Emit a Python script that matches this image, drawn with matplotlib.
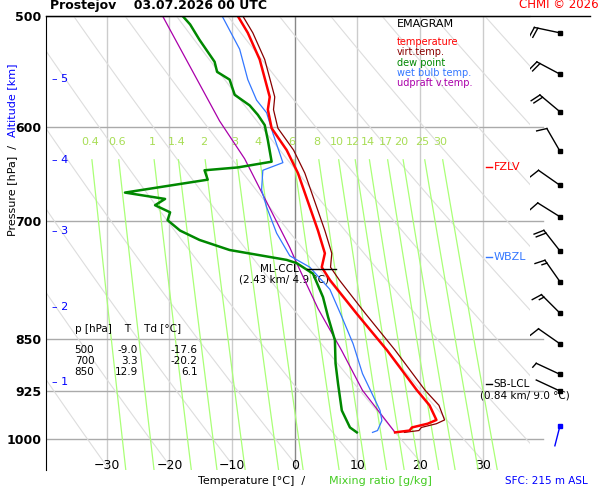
import numpy as np
import matplotlib
matplotlib.use("Agg")
import matplotlib.pyplot as plt

# sounding data (temperature in degC, pressure in hPa)
t_p = [500, 514, 537, 571, 583, 601, 623, 647, 711, 738, 755, 771, 815, 865, 924, 947, 970, 976, 982, 987, 990]
t_t = [-9.1, -7.5, -5.6, -4.0, -4.3, -3.7, -1.3, 0.5, 3.7, 4.8, 4.3, 5.6, 9.9, 14.7, 19.5, 21.5, 22.6, 21.2, 18.7, 18.3, 16.0]
tv_t = [-8.3, -6.7, -4.8, -3.2, -3.4, -2.7, -0.2, 1.6, 4.8, 5.9, 5.7, 7.1, 11.3, 16.0, 20.8, 23.0, 23.9, 22.6, 20.2, 19.8, 17.5]
td_p = [500, 507, 520, 539, 548, 555, 569, 579, 588, 598, 613, 635, 641, 644, 654, 668, 675, 682, 690, 699,
        711, 722, 732, 734, 746, 750, 763, 793, 819, 851, 884, 914, 955, 982, 990]
td_t = [-17.9, -16.7, -15.2, -12.8, -12.4, -10.4, -9.6, -7.2, -5.9, -4.8, -4.3, -3.7, -9.1, -14.4, -13.9, -27.1,
        -20.7, -22.3, -19.9, -20.3, -18.3, -15.2, -11.2, -10.4, -1.3, 0.3, 2.9, 4.5, 5.3, 6.4, 6.5, 6.9, 7.5, 8.8, 9.9]
wb_p = [500, 528, 555, 574, 586, 606, 636, 644, 665, 684, 714, 741, 755, 783, 819, 856, 899, 955, 971, 987, 990]
wb_t = [-11.6, -8.8, -7.5, -6.1, -4.5, -3.5, -1.9, -5.1, -5.3, -4.5, -2.9, -0.8, 2.4, 5.6, 7.5, 9.3, 10.8, 13.6, 13.9, 13.2, 12.4]
pc_p = [500, 594, 632, 731, 750, 808, 866, 924, 990]
pc_t = [-21.1, -12.0, -8.0, -0.8, 0.3, 3.7, 7.5, 10.8, 16.0]

wind_p = [514, 550, 585, 624, 660, 695, 735, 773, 814, 856, 900, 925]
wind_dir = [282, 298, 310, 330, 305, 302, 322, 325, 315, 305, 295, 295]
wind_kt = [20, 20, 20, 10, 10, 10, 20, 15, 15, 10, 5, 0]

mix_ratios = [0.4, 0.6, 1, 1.4, 2, 3, 4, 6, 8, 10, 12, 14, 17, 20, 25, 30]
p_ticks = [500, 600, 700, 850, 925, 1000]
km_ticks = [1, 2, 3, 4, 5]
km_p = [912, 806, 712, 633, 554]
table_rows = [(500, -9.0, -17.6), (700, 3.3, -20.2), (850, 12.9, 6.1)]

fig = plt.figure(figsize=(6, 5), dpi=100)
ax = fig.add_axes([0.0767, 0.06, 0.8063, 0.908])
pmax, pmin = 1053, 500
ax.set_yscale("log")
ax.set_ylim(pmax, pmin)
ax.set_xlim(-39.7, 37.5)

for t in range(-30, 40, 10):
    ax.axvline(t, color="#888888" if t == 0 else "#cccccc", lw=1, zorder=1)
for p in p_ticks:
    ax.axhline(p, color="#aaaaaa", lw=1, zorder=1)

# dry adiabats
pp = np.linspace(pmin, pmax, 100)
for th in range(230, 500, 10):
    ax.plot(th * (pp / 1000) ** 0.286 - 273.15, pp, color="#dddddd", lw=0.8, zorder=1)

# mixing ratio lines
pm = np.linspace(633, pmax, 50)
for w in mix_ratios:
    e = w * pm / (622 + w)
    l = np.log(e / 6.112)
    ax.plot(243.5 * l / (17.67 - l), pm, color="#aaff77", lw=0.9, zorder=2)
    e0 = w * 620 / (622 + w)
    l0 = np.log(e0 / 6.112)
    ax.text(243.5 * l0 / (17.67 - l0), 620, f"{w:g}", color="#a8dd55", fontsize=8, ha="center", va="bottom")

ax.plot(pc_t, pc_p, color="#aa00aa", lw=0.9, zorder=4)
ax.plot(wb_t, wb_p, color="#3377ff", lw=0.9, zorder=4)
ax.plot(td_t, td_p, color="#008800", lw=1.8, zorder=5)
ax.plot(tv_t, t_p, color="#880000", lw=0.9, zorder=5)
ax.plot(t_t, t_p, color="red", lw=1.8, zorder=6)

ax.set_yticks(p_ticks)
ax.set_yticklabels([str(p) for p in p_ticks], fontsize=9, fontweight="bold")
ax.yaxis.set_minor_locator(matplotlib.ticker.NullLocator())
ax.set_xticks(range(-30, 40, 10))
ax.tick_params(axis="x", length=0, labelsize=9, pad=-8)
ax.tick_params(axis="y", length=0)
for s in ["right", "bottom"]:
    ax.spines[s].set_visible(False)

for km, p in zip(km_ticks, km_p):
    ax.text(-38.8, p, f"– {km}", color="blue", fontsize=8, va="center")

# table
ax.text(-35, 842, "p [hPa]    T    Td [°C]", fontsize=7.5, va="bottom")
for i, (p, t, td) in enumerate(table_rows):
    y = 858 * (1.018 ** i)
    ax.text(-32, y, f"{p}", fontsize=7.5, ha="right", va="top")
    ax.text(-25, y, f"{t:.1f}", fontsize=7.5, ha="right", va="top")
    ax.text(-15.5, y, f"{td:.1f}", fontsize=7.5, ha="right", va="top")

ax.plot([2, 6.5], [757, 757], color="black", lw=1, zorder=7)
ax.text(-2.5, 757, "ML-CCL", fontsize=7.5, ha="center", va="center")
ax.text(-1.8, 771, "(2.43 km/ 4.9 °C)", fontsize=7.5, ha="center", va="center")
ax.plot([30.5, 31.5], [914, 914], color="black", lw=1)
ax.text(31.7, 914, "SB-LCL", fontsize=7.5, va="center")
ax.text(29.5, 932, "(0.84 km/ 9.0 °C)", fontsize=7.5, va="center")
ax.plot([30.5, 31.5], [641, 641], color="red", lw=1)
ax.text(31.7, 641, "FZLV", fontsize=8, va="center", color="red")
ax.plot([30.5, 31.5], [742, 742], color="#3377ff", lw=1)
ax.text(31.7, 742, "WBZL", fontsize=8, va="center", color="#3377ff")

fig.text(0.662, 0.952, "EMAGRAM", fontsize=8, va="center")
for i, (lab, c) in enumerate([("temperature", "red"), ("virt.temp.", "#880000"), ("dew point", "#008800"),
                              ("wet bulb temp.", "#3377ff"), ("udpraft v.temp.", "#aa00aa")]):
    fig.text(0.662, 0.916 - i * 0.0205, lab, fontsize=7, color=c, va="center")

# winds drawn by hand in a pixel-scaled axes (y = -609*ln(p))
k = 609.0
bx = fig.add_axes([0.883, 0.06, 0.117, 0.908])
bx.set_xlim(0, 70)
bx.set_ylim(-k * np.log(pmax), -k * np.log(pmin))
bx.axis("off")
x0 = 30
for p, dr, sp in zip(wind_p, wind_dir, wind_kt):
    y0 = -k * np.log(p)
    a = np.radians(dr)
    dx, dy = np.sin(a), np.cos(a)          # toward where wind comes from
    px, py = dy, -dx                       # perpendicular
    L = 26
    bx.plot([x0, x0 + L * dx], [y0, y0 + L * dy], color="black", lw=1)
    bx.plot([x0], [y0], marker="s", ms=2.5, color="black")
    pos = L
    n10, n5 = sp // 10, (sp % 10) // 5
    for j in range(n10):
        bx.plot([x0 + pos * dx, x0 + pos * dx - 10 * px + 3 * dx],
                [y0 + pos * dy, y0 + pos * dy - 10 * py + 3 * dy], color="black", lw=1)
        pos -= 3.5
    for j in range(n5):
        bx.plot([x0 + pos * dx, x0 + pos * dx - 5 * px + 1.5 * dx],
                [y0 + pos * dy, y0 + pos * dy - 5 * py + 1.5 * dy], color="black", lw=1)
bx.plot([x0 - 5, x0], -k * np.log(np.array([1012, 980])), color="blue", lw=1)
bx.plot([x0], [-k * np.log(980)], marker="s", ms=2.5, color="blue")
for p in p_ticks[1:]:
    bx.plot([0, 13], [-k * np.log(p)] * 2, color="#aaaaaa", lw=1)

fig.add_artist(plt.Line2D([0.0767, 0.983], [0.968, 0.968], color="black", lw=1))
fig.text(0.083, 0.99, "Prostejov    03.07.2026 00 UTC", fontsize=9, fontweight="bold", va="center")
fig.text(0.997, 0.99, "CHMI © 2026", fontsize=8.5, color="red", ha="right", va="center")
fig.text(0.33, 0.038, "Temperature [°C]  /", fontsize=8, va="center")
fig.text(0.548, 0.038, "Mixing ratio [g/kg]", fontsize=8, color="#44cc22", va="center")
fig.text(0.98, 0.038, "SFC: 215 m ASL", fontsize=7.5, color="blue", ha="right", va="center")
fig.text(0.012, 0.62, "Pressure [hPa]  /", fontsize=8, rotation=90, va="center")
fig.text(0.012, 0.8, "Altitude [km]", fontsize=8, rotation=90, va="center", color="blue")

fig.savefig("out.png")
